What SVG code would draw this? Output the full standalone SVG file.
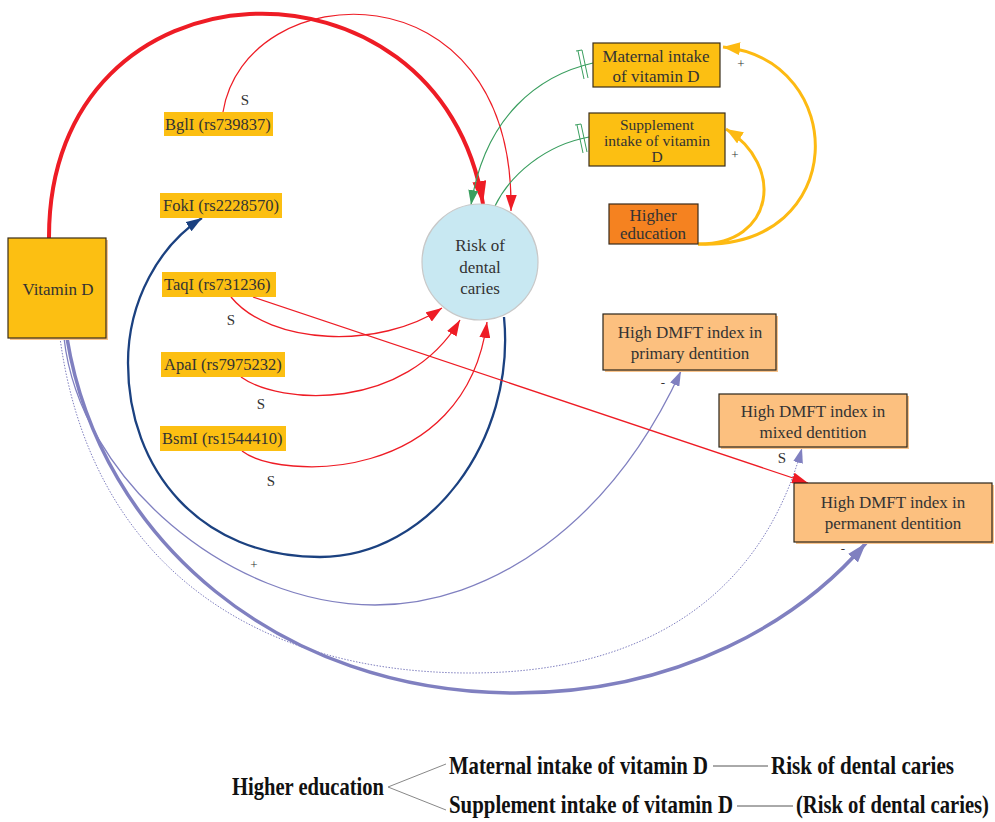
<svg xmlns="http://www.w3.org/2000/svg" width="995" height="822" viewBox="0 0 995 822">
<defs>
<style>
.t{font-family:"Liberation Serif","Times New Roman",serif;fill:#333;}
.box{font-size:17px;text-anchor:middle;}
.box2{font-size:15.5px;text-anchor:middle;}
.lbl{font-size:16.5px;}
.sm{font-size:15px;text-anchor:middle;}
.pm{font-size:13px;text-anchor:middle;}
.bt{font-family:"Liberation Serif","Times New Roman",serif;font-weight:bold;font-size:20.5px;fill:#111;}
.yn{fill:#FCBF12;stroke:#3a2e1a;stroke-width:1.2;}
.dm{fill:#FCC07F;stroke:#2a2418;stroke-width:1.2;}
.sh{fill:#F9C48C;}
.lb{fill:#FCBF12;}
.c{fill:none;}
</style>
<marker id="aRb" markerUnits="userSpaceOnUse" markerWidth="24" markerHeight="14" refX="23" refY="7" orient="auto"><path d="M0,0 L23,7 L0,14 z" fill="#EE1C25"/></marker>
<marker id="aR" markerUnits="userSpaceOnUse" markerWidth="16" markerHeight="11" refX="16" refY="5.5" orient="auto"><path d="M0,0 L16,5.5 L0,11 z" fill="#EE1C25"/></marker>
<marker id="aG" markerUnits="userSpaceOnUse" markerWidth="15" markerHeight="10" refX="15" refY="5" orient="auto"><path d="M0,0 L15,5 L0,10 z" fill="#3A9E5F"/></marker>
<marker id="aY" markerUnits="userSpaceOnUse" markerWidth="17" markerHeight="13" refX="17" refY="6.5" orient="auto"><path d="M0,0 L17,6.5 L0,13 z" fill="#FDBA12"/></marker>
<marker id="aB" markerUnits="userSpaceOnUse" markerWidth="16" markerHeight="11" refX="16" refY="5.5" orient="auto"><path d="M0,0 L16,5.5 L0,11 z" fill="#1B4180"/></marker>
<marker id="aP" markerUnits="userSpaceOnUse" markerWidth="15" markerHeight="10" refX="15" refY="5" orient="auto"><path d="M0,0 L15,5 L0,10 z" fill="#8080C0"/></marker>
<marker id="aPb" markerUnits="userSpaceOnUse" markerWidth="20" markerHeight="13" refX="20" refY="6.5" orient="auto"><path d="M0,0 L20,6.5 L0,13 z" fill="#8080C0"/></marker>
</defs>
<rect width="995" height="822" fill="#fff"/>

<g id="connectors">
<path class="c" d="M60,338 C90,560 250,673 470,673 C640,673 760,600 802,448" stroke="#8080C0" stroke-width="1" stroke-dasharray="1.5,1.5" marker-end="url(#aP)"/>
<path class="c" d="M64,338 C80,480 230,605 375,605 C490,605 610,525 681,371" stroke="#8080C0" stroke-width="1.3" marker-end="url(#aP)"/>
<path class="c" d="M67,338 C100,540 280,693 515,693 C680,693 800,620 866,543" stroke="#8080C0" stroke-width="3.5" marker-end="url(#aPb)"/>
<path class="c" d="M504,317 C516,440 430,557 320,557 C200,557 128,470 128,363 C128,300 160,245 202,218" stroke="#1B4180" stroke-width="2.3" marker-end="url(#aB)"/>
<path class="c" d="M49,238 C48,-50 440,-60 483,204" stroke="#EE1C25" stroke-width="4" marker-end="url(#aRb)"/>
<path class="c" d="M223,112 C245,-25 515,-40 511,211" stroke="#EE1C25" stroke-width="1.2" marker-end="url(#aR)"/>
<path class="c" d="M231,297 C270,345 380,350 442,308" stroke="#EE1C25" stroke-width="1.3" marker-end="url(#aR)"/>
<path class="c" d="M253,297 L808,483" stroke="#EE1C25" stroke-width="1.3" marker-end="url(#aR)"/>
<path class="c" d="M241,377 C280,405 405,412 460,320" stroke="#EE1C25" stroke-width="1.3" marker-end="url(#aR)"/>
<path class="c" d="M242,451 C280,480 465,485 487,322" stroke="#EE1C25" stroke-width="1.3" marker-end="url(#aR)"/>
<path class="c" d="M593,63 C540,75 485,115 471,205" stroke="#3A9E5F" stroke-width="1.2" marker-end="url(#aG)"/>
<path class="c" d="M589,137 C545,145 510,175 495,206" stroke="#3A9E5F" stroke-width="1.2"/>
<g stroke="#3A9E5F" stroke-width="1">
<line x1="578" y1="51" x2="584" y2="79"/><line x1="582" y1="50" x2="588" y2="78"/><line x1="576" y1="51" x2="582" y2="50"/>
<line x1="577" y1="125" x2="583" y2="153"/><line x1="581" y1="124" x2="587" y2="152"/><line x1="575" y1="125" x2="581" y2="124"/>
</g>
<path class="c" d="M698,244 C850,250 850,60 723,47" stroke="#FDBA12" stroke-width="3" marker-end="url(#aY)"/>
<path class="c" d="M698,244 C775,245 785,165 726,129" stroke="#FDBA12" stroke-width="3" marker-end="url(#aY)"/>
<text class="t sm" x="245" y="105">S</text>
<text class="t sm" x="231" y="325">S</text>
<text class="t sm" x="261" y="409">S</text>
<text class="t sm" x="271" y="486">S</text>
<text class="t sm" x="782" y="463">S</text>
<text class="t pm" x="741" y="68">+</text>
<text class="t pm" x="735" y="159">+</text>
<text class="t pm" x="663" y="387">-</text>
<text class="t pm" x="254" y="569">+</text>
<text class="t pm" x="843" y="553">-</text>
</g>

<g id="vitamin-d">
<rect x="10" y="240" width="98" height="100" class="sh"/>
<rect x="8" y="238" width="98" height="100" class="yn"/>
<text class="t box" x="58" y="295">Vitamin D</text>
</g>

<g id="risk">
<circle cx="480" cy="262" r="58" fill="#C8E8F2" stroke="#c8c8c8" stroke-width="1.2"/>
<text class="t box" x="480" y="251" font-size="16.5">Risk of</text>
<text class="t box" x="480" y="273" font-size="16.5">dental</text>
<text class="t box" x="480" y="294" font-size="16.5">caries</text>
</g>

<g id="bgli"><rect x="164" y="112" width="109" height="24" class="lb"/><text class="t lbl" x="165" y="130">BglI (rs739837)</text></g>
<g id="foki"><rect x="160" y="193" width="122" height="25" class="lb"/><text class="t lbl" x="163" y="211">FokI (rs2228570)</text></g>
<g id="taqi"><rect x="162" y="272" width="114" height="25" class="lb"/><text class="t lbl" x="164" y="290">TaqI (rs731236)</text></g>
<g id="apai"><rect x="161" y="352" width="124" height="25" class="lb"/><text class="t lbl" x="164" y="370">ApaI (rs7975232)</text></g>
<g id="bsmi"><rect x="160" y="426" width="126" height="25" class="lb"/><text class="t lbl" x="162" y="444">BsmI (rs1544410)</text></g>

<g id="maternal">
<rect x="593" y="43" width="127" height="44" class="yn"/>
<text class="t box" x="656" y="62">Maternal intake</text>
<text class="t box" x="656" y="82">of vitamin D</text>
</g>

<g id="supplement">
<rect x="589" y="113" width="136" height="53" class="yn"/>
<text class="t box2" x="657" y="130">Supplement</text>
<text class="t box2" x="657" y="146">intake of vitamin</text>
<text class="t box2" x="657" y="162">D</text>
</g>

<g id="higher-education">
<rect x="609" y="204" width="89" height="40" fill="#F58220" stroke="#3a2a1a" stroke-width="1.2"/>
<text class="t box" x="653" y="221">Higher</text>
<text class="t box" x="653" y="239">education</text>
</g>

<g id="dmft-primary">
<rect x="605" y="316" width="173" height="56" class="sh"/>
<rect x="603" y="314" width="173" height="56" class="dm"/>
<text class="t box" x="690" y="338">High DMFT index in</text>
<text class="t box" x="690" y="359">primary dentition</text>
</g>

<g id="dmft-mixed">
<rect x="721" y="396" width="188" height="53" class="sh"/>
<rect x="719" y="394" width="188" height="53" class="dm"/>
<text class="t box" x="813" y="417">High DMFT index in</text>
<text class="t box" x="813" y="438">mixed dentition</text>
</g>

<g id="dmft-permanent">
<rect x="796" y="485" width="198" height="59" class="sh"/>
<rect x="794" y="483" width="198" height="59" class="dm"/>
<text class="t box" x="893" y="508">High DMFT index in</text>
<text class="t box" x="893" y="529">permanent dentition</text>
</g>

<g id="summary">
<line x1="388" y1="787" x2="446" y2="764" stroke="#888" stroke-width="1"/>
<line x1="388" y1="787" x2="446" y2="810" stroke="#888" stroke-width="1"/>
<line x1="713" y1="766" x2="768" y2="766" stroke="#555" stroke-width="1"/>
<line x1="737" y1="806" x2="793" y2="806" stroke="#555" stroke-width="1"/>
<g transform="translate(0,795) scale(1,1.18)"><text class="bt" x="232" y="0" textLength="152" lengthAdjust="spacingAndGlyphs">Higher education</text></g>
<g transform="translate(0,774) scale(1,1.18)"><text class="bt" x="449" y="0" textLength="259" lengthAdjust="spacingAndGlyphs">Maternal intake of vitamin D</text>
<text class="bt" x="771" y="0" textLength="183" lengthAdjust="spacingAndGlyphs">Risk of dental caries</text></g>
<g transform="translate(0,813) scale(1,1.18)"><text class="bt" x="449" y="0" textLength="284" lengthAdjust="spacingAndGlyphs">Supplement intake of vitamin D</text>
<text class="bt" x="796" y="0" textLength="193" lengthAdjust="spacingAndGlyphs">(Risk of dental caries)</text></g>
</g>
</svg>
